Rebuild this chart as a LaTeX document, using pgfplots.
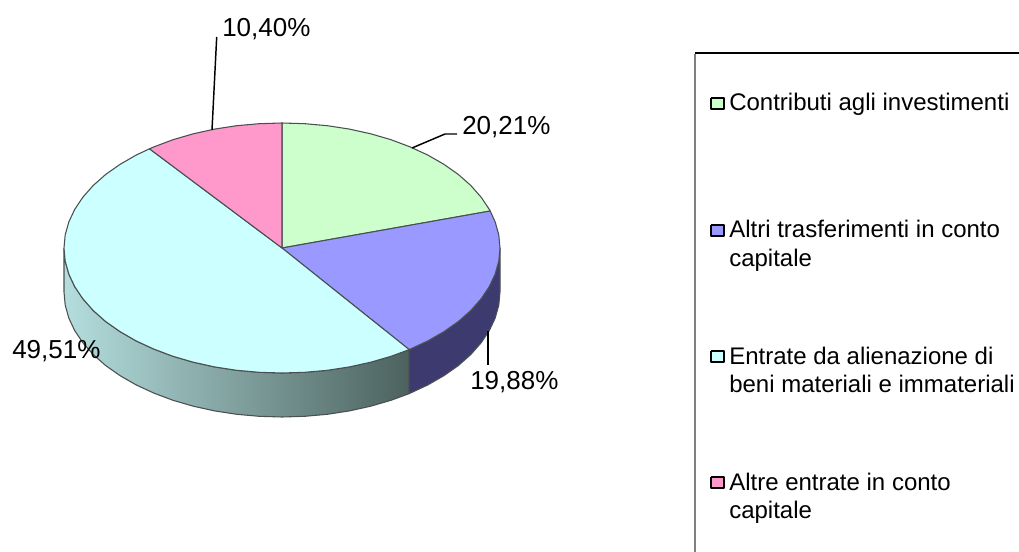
\documentclass[border=0pt]{standalone}
\usepackage{pgfplots}
\pgfplotsset{compat=1.18}
\usepackage{fontspec}
\setmainfont{Liberation Sans}
\definecolor{gr}{HTML}{CCFFCC}
\definecolor{bl}{HTML}{9999FF}
\definecolor{cy}{HTML}{CCFFFF}
\definecolor{pk}{HTML}{FF99CC}
\definecolor{edge}{HTML}{4A5050}
\definecolor{wallL}{HTML}{B4DEDE}
\definecolor{wallR}{HTML}{4C625E}
\definecolor{wallB}{HTML}{3C3A6E}
\begin{document}
\begin{tikzpicture}
\begin{axis}[
  x=0.75pt,y=0.75pt,
  xmin=0,xmax=1019,ymin=0,ymax=552,y dir=reverse,
  hide axis,
  scale only axis,
  clip=true,
  every axis plot/.append style={line width=0.8pt,draw=edge,line join=round},
]
\path (axis cs:0,0) rectangle (axis cs:1019,552);
% side walls
\addplot[draw=edge,left color=wallL,right color=wallR] coordinates {
(64,248)(65.2,261.1)(68.8,274)(74.7,286.6)(82.9,298.8)(93.2,310.5)(105.6,321.5)(120,331.6)(136.1,340.9)(153.9,349.1)(173,356.3)(193.3,362.2)(214.6,366.9)(236.7,370.3)(259.2,372.3)(282,373)(304.8,372.3)(327.3,370.3)(349.4,366.9)(370.7,362.2)(391,356.3)(409.2,349.6)
(409.2,393.6)(391,400.3)(370.7,406.2)(349.4,410.9)(327.3,414.3)(304.8,416.3)(282,417)(259.2,416.3)(236.7,414.3)(214.6,410.9)(193.3,406.2)(173,400.3)(153.9,393.1)(136.1,384.9)(120,375.6)(105.6,365.5)(93.2,354.5)(82.9,342.8)(74.7,330.6)(68.8,318)(65.2,305.1)(64,292)(64,248)};
\addplot[fill=wallB,draw=edge] coordinates {
(409.2,349.6)(427.9,340.9)(444,331.6)(458.4,321.5)(470.8,310.5)(481.1,298.8)(489.3,286.6)(495.2,274)(498.8,261.1)(500,248)
(500,292)(498.8,305.1)(495.2,318)(489.3,330.6)(481.1,342.8)(470.8,354.5)(458.4,365.5)(444,375.6)(427.9,384.9)(409.2,393.6)(409.2,349.6)};
% top faces
\addplot[fill=gr] coordinates {(282,248)(282,123)(304.8,123.7)(327.3,125.7)(349.4,129.1)(370.7,133.8)(391,139.7)(410.1,146.9)(427.9,155.1)(444,164.4)(458.4,174.5)(470.8,185.5)(481.1,197.2)(489.3,209.4)(490.2,211)(282,248)};
\addplot[fill=bl] coordinates {(282,248)(490.2,211)(495.2,222)(498.8,234.9)(500,248)(498.8,261.1)(495.2,274)(489.3,286.6)(481.1,298.8)(470.8,310.5)(458.4,321.5)(444,331.6)(427.9,340.9)(409.2,349.6)(282,248)};
\addplot[fill=cy] coordinates {(282,248)(409.2,349.6)(391,356.3)(370.7,362.2)(349.4,366.9)(327.3,370.3)(304.8,372.3)(282,373)(259.2,372.3)(236.7,370.3)(214.6,366.9)(193.3,362.2)(173,356.3)(153.9,349.1)(136.1,340.9)(120,331.6)(105.6,321.5)(93.2,310.5)(82.9,298.8)(74.7,286.6)(68.8,274)(65.2,261.1)(64,248)(65.2,234.9)(68.8,222)(74.7,209.4)(82.9,197.2)(93.2,185.5)(105.6,174.5)(120,164.4)(136.1,155.1)(149.5,148.8)(282,248)};
\addplot[fill=pk] coordinates {(282,248)(149.5,148.8)(153.9,146.9)(173,139.7)(193.3,133.8)(214.6,129.1)(236.7,125.7)(259.2,123.7)(282,123)(282,248)};
% leader lines
\addplot[draw=black,line width=1.1pt] coordinates {(212,130)(216.7,37)};
\addplot[draw=black,line width=1.1pt] coordinates {(412,148)(445,134)(457,134)};
\addplot[draw=black,line width=1.1pt] coordinates {(488,331)(488,365)};
% labels
\node[anchor=base west,inner sep=0,font=\fontsize{19.5pt}{22pt}\selectfont] at (axis cs:222,37) {10,40\%};
\node[anchor=base west,inner sep=0,font=\fontsize{19.5pt}{22pt}\selectfont] at (axis cs:462,135) {20,21\%};
\node[anchor=base west,inner sep=0,font=\fontsize{19.5pt}{22pt}\selectfont] at (axis cs:12,358) {49,51\%};
\node[anchor=base west,inner sep=0,font=\fontsize{19.5pt}{22pt}\selectfont] at (axis cs:470,389) {19,88\%};
% legend frame
\addplot[draw=gray,line width=1.4pt] coordinates {(695,54)(695,552)};
\addplot[draw=black,line width=0.9pt] coordinates {(695,53)(1019,53)};
% legend keys
\addplot[fill=gr,draw=black,line width=1.6pt] coordinates {(711,98)(724,98)(724,109)(711,109)(711,98)};
\addplot[fill=bl,draw=black,line width=1.6pt] coordinates {(711,225)(724,225)(724,236)(711,236)(711,225)};
\addplot[fill=cy,draw=black,line width=1.6pt] coordinates {(711,351)(724,351)(724,362)(711,362)(711,351)};
\addplot[fill=pk,draw=black,line width=1.6pt] coordinates {(711,477)(724,477)(724,488)(711,488)(711,477)};
% legend text
\tikzset{lg/.style={anchor=base west,inner sep=0,font=\fontsize{18pt}{21pt}\selectfont}}
\node[lg] at (axis cs:729,111) {Contributi agli investimenti};
\node[lg] at (axis cs:729,238) {Altri trasferimenti in conto};
\node[lg] at (axis cs:729,266) {capitale};
\node[lg] at (axis cs:729,364) {Entrate da alienazione di};
\node[lg] at (axis cs:729,392) {beni materiali e immateriali};
\node[lg] at (axis cs:729,490) {Altre entrate in conto};
\node[lg] at (axis cs:729,518) {capitale};
\end{axis}
\end{tikzpicture}
\end{document}
